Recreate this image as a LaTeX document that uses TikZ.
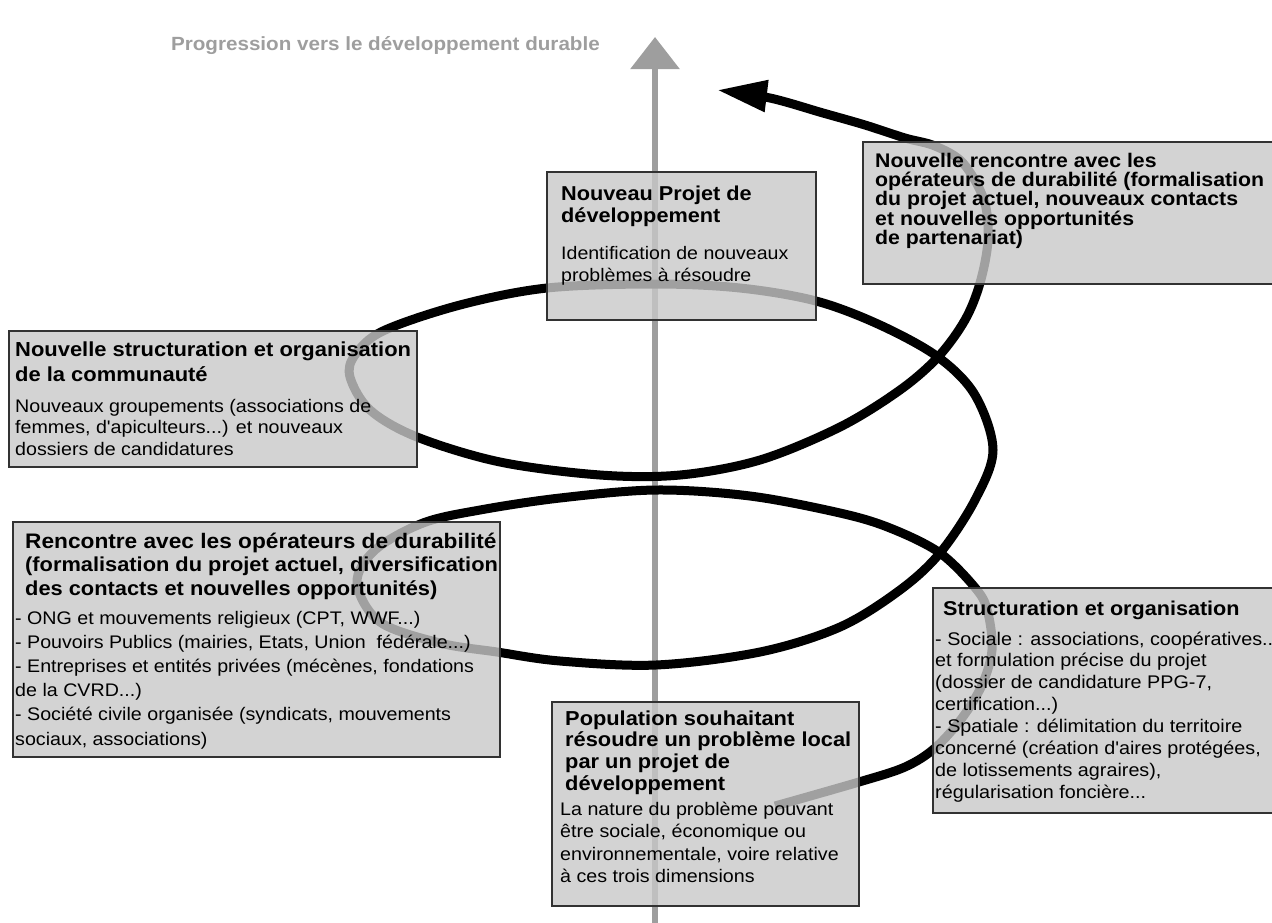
\documentclass[tikz,border=0pt]{standalone}
\usepackage{fontspec}
\setmainfont{Liberation Sans}[FakeStretch=1.08,Ligatures=TeXOff]
\usetikzlibrary{arrows.meta}
\definecolor{boxfill}{RGB}{200,200,200}
\definecolor{boxline}{RGB}{50,50,50}
\definecolor{axisgray}{RGB}{158,158,158}
% #1 font size, #2 baseline distance, #3 lines separated by \\
\newcommand\hdtxt[3]{\vtop{\hsize=700pt\parindent=0pt\parskip=0pt\rightskip=0pt plus 1fil
  \fontsize{#1}{#2}\selectfont\bfseries\lineskiplimit=-\maxdimen\baselineskip=#2pt\relax
  \def\\{\par}#3\par}}
\newcommand\bdtxt[3]{\vtop{\hsize=700pt\parindent=0pt\parskip=0pt\rightskip=0pt plus 1fil
  \fontsize{#1}{#2}\selectfont\lineskiplimit=-\maxdimen\baselineskip=#2pt\relax
  \def\\{\par}#3\par}}
\tikzset{
  box/.style={draw=boxline, line width=1.8pt, fill=boxfill, fill opacity=0.8,
    text opacity=1, inner sep=0pt, outer sep=0pt, anchor=north west},
  txt/.style={anchor=base west, inner sep=0pt},
  axisline/.style={draw=axisgray, line width=6pt, -{Triangle[length=32pt,width=48pt]}},
  spiral/.style={draw=black, line width=9pt, -{Triangle[length=50pt,width=30pt]}},
}
\begin{document}
\begin{tikzpicture}[x=1pt,y=-1pt]
\useasboundingbox (0,0) rectangle (1272,922);
\clip (0,0) rectangle (1272,922);

% axis
\coordinate (axB) at (655,930);
\coordinate (axT) at (655,37);
\draw[axisline] (axB) -- (axT);
\node[anchor=base east, inner sep=0pt, text=axisgray, font=\fontsize{19.1}{22}\selectfont\bfseries] (title) at (600,50) {Progression vers le développement durable};

% spiral
\draw[spiral] plot[smooth, tension=0.55] coordinates {
 (775,806) (859,782) (905,767) (935,748) (962,718) (982,685) (992,650)
 (988,613) (977,590) (940,553) (890,528) (840,513) (750,496) (656,490)
 (560,498) (480,510) (423,523) (375,550) (357,583) (380,622) (440,643)
 (497,652) (560,661) (656,665) (760,652) (840,627) (900,590) (940,553)
 (975,500) (993,450) (975,395) (938,357) (880,325) (816,301) (740,288)
 (655,284) (547,288) (460,305) (383,331) (355,355) (350,377) (370,410)
 (417,437) (500,462) (600,475) (680,475) (760,460) (840,427) (900,390)
 (938,357) (965,320) (980,283) (988,240) (984,200) (963,163) (935,146)
 (905,138) (865,125) (823,113) (770,98) (717,90)};

% boxes
\node[box, minimum width=269pt, minimum height=148pt] (bA) at (547,172) {};
\node[box, minimum width=430pt, minimum height=142pt] (bB) at (863,142) {};
\node[box, minimum width=408pt, minimum height=136pt] (bC) at (9,331) {};
\node[box, minimum width=487pt, minimum height=235pt] (bD) at (13,522) {};
\node[box, minimum width=360pt, minimum height=225pt] (bE) at (933,588) {};
\node[box, minimum width=307pt, minimum height=204pt] (bF) at (552,702) {};

% texts
\node[txt] (hA) at (561,200) {\hdtxt{20.1}{22}{Nouveau Projet de\\développement}};
\node[txt] (tA) at (561,259) {\bdtxt{18.1}{22}{Identification de nouveaux\\problèmes à résoudre}};

\node[txt] (hB) at (875,167) {\hdtxt{19.7}{19.4}{Nouvelle rencontre avec les\\opérateurs de durabilité (formalisation\\du projet actuel, nouveaux contacts\\et nouvelles opportunités\\de partenariat)}};

\node[txt] (hC) at (15,356) {\hdtxt{20.3}{25}{Nouvelle structuration et organisation\\de la communauté}};
\node[txt] (tC) at (15,412) {\bdtxt{18.2}{21.5}{Nouveaux groupements (associations de\\femmes, d'apiculteurs...) et nouveaux\\dossiers de candidatures}};

\node[txt] (hD) at (25,548) {\hdtxt{20.2}{23.5}{{\fontsize{21}{23.5}\selectfont Rencontre avec les opérateurs de durabilité}\\(formalisation du projet actuel, diversification\\des contacts et nouvelles opportunités)}};
\node[txt] (tD) at (15,624) {\bdtxt{18.2}{24.2}{- ONG et mouvements religieux (CPT, WWF...)\\- Pouvoirs Publics (mairies, Etats, Union\ \ fédérale...)\\- Entreprises et entités privées (mécènes, fondations\\de la CVRD...)\\- Société civile organisée (syndicats, mouvements\\sociaux, associations)}};

\node[txt] (hE) at (943,615) {\hdtxt{20.0}{22}{Structuration et organisation}};
\node[txt] (tE) at (935,645) {\bdtxt{18.3}{21.9}{- Sociale : associations, coopératives...\\et formulation précise du projet\\(dossier de candidature PPG-7,\\certification...)\\- Spatiale : délimitation du territoire\\concerné (création d'aires protégées,\\de lotissements agraires),\\régularisation foncière...}};

\node[txt] (hF) at (565,725) {\hdtxt{20.2}{21.7}{Population souhaitant\\résoudre un problème local\\par un projet de\\développement}};
\node[txt] (tF) at (560,815) {\bdtxt{18.2}{22.5}{La nature du problème pouvant\\être sociale, économique ou\\environnementale, voire relative\\à ces trois dimensions}};
\end{tikzpicture}
\end{document}
